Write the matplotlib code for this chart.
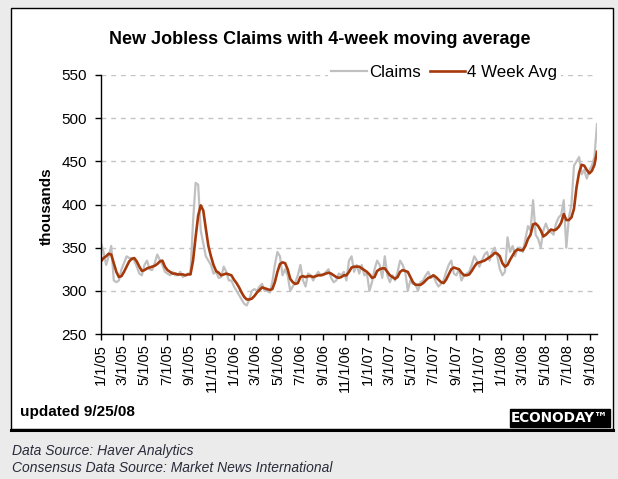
import numpy as np
import pandas as pd
import matplotlib
matplotlib.use("Agg")
import matplotlib.pyplot as plt
from matplotlib.patches import Rectangle
from matplotlib.lines import Line2D

plt.rcParams['font.family'] = ['Liberation Sans', 'DejaVu Sans']

# weekly initial claims (thousands), weeks ending Saturday from 1/1/05
claims_2005 = [355, 345, 330, 340, 352, 312, 310, 312, 325, 332,
               340, 338, 338, 335, 328, 320, 318, 330, 335, 325,
               324, 332, 342, 336, 330, 322, 320, 318, 322, 318,
               318, 322, 316, 318, 320, 320, 380, 425, 423, 370,
               355, 340, 335, 330, 320, 322, 315, 316, 328, 322,
               312, 312, 305]
claims_2006 = [300, 295, 290, 285, 283, 290, 300, 302, 300, 305,
               308, 300, 300, 298, 310, 330, 345, 340, 318, 325,
               318, 300, 305, 310, 318, 330, 312, 305, 320, 318,
               312, 318, 322, 318, 318, 322, 325, 315, 310, 312,
               320, 318, 322, 312, 335, 340, 322, 330, 320, 330,
               318, 320]
claims_2007 = [300, 310, 325, 335, 330, 315, 340, 318, 310, 318,
               312, 322, 335, 330, 322, 300, 312, 308, 308, 300,
               310, 312, 318, 322, 315, 318, 310, 305, 308, 312,
               322, 330, 335, 320, 318, 325, 312, 318, 320, 322,
               330, 340, 335, 328, 335, 342, 345, 335, 345, 350,
               340, 325]
claims_2008 = [318, 322, 362, 345, 352, 340, 350, 350, 345, 360,
               375, 370, 405, 365, 360, 350, 370, 378, 370, 368,
               365, 378, 385, 388, 405, 350, 385, 400, 445, 450,
               455, 435, 440, 430, 440, 445, 455, 493]

# 4-week moving average as drawn
avg_2005 = [334, 338, 340, 343, 342, 332, 322, 316, 317, 322,
            328, 334, 337, 338, 334, 328, 323, 324, 326, 327,
            328, 329, 331, 334, 335, 328, 324, 322, 320, 320,
            319, 319, 319, 318, 319, 319, 335, 362, 387, 399,
            393, 372, 352, 340, 330, 323, 321, 318, 319, 320,
            319, 318, 313]
avg_2006 = [309, 304, 298, 293, 290, 290, 291, 294, 298, 301,
            304, 303, 302, 301, 302, 310, 322, 331, 333, 332,
            325, 314, 310, 308, 309, 316, 317, 316, 317, 317,
            316, 317, 318, 318, 319, 320, 321, 320, 318, 316,
            315, 316, 318, 318, 322, 327, 328, 328, 328, 326,
            324, 322]
avg_2007 = [319, 315, 316, 323, 325, 326, 326, 322, 318, 316,
            314, 316, 322, 324, 323, 322, 316, 310, 307, 307,
            307, 309, 312, 315, 316, 318, 316, 313, 310, 309,
            313, 319, 325, 327, 326, 325, 321, 318, 318, 319,
            323, 328, 332, 333, 334, 335, 337, 339, 341, 344,
            343, 340]
avg_2008 = [332, 328, 330, 336, 341, 346, 348, 347, 347, 352,
            360, 365, 377, 378, 375, 370, 363, 365, 368, 371,
            370, 371, 374, 379, 389, 382, 382, 385, 395, 420,
            437, 446, 445, 440, 436, 439, 446, 461]

claims = claims_2005 + claims_2006 + claims_2007 + claims_2008
avg4 = avg_2005 + avg_2006 + avg_2007 + avg_2008
weeks = pd.date_range('2005-01-01', periods=len(claims), freq='7D')

tick_dates = pd.date_range('2005-01-01', '2008-09-01', freq='2MS')
tick_labels = [f"{d.month}/{d.day}/{d:%y}" for d in tick_dates]

W, H = 618, 479
fig = plt.figure(figsize=(W / 100, H / 100), dpi=100, facecolor='#ebebeb')

# white panel with black border
fig.patches.append(Rectangle((11 / W, 1 - 429 / H), (613 - 11) / W, (429 - 8) / H,
                             transform=fig.transFigure, facecolor='white',
                             edgecolor='black', lw=1, zorder=-5))
fig.add_artist(Line2D([11 / W, 613 / W], [1 - 429.5 / H] * 2, color='black', lw=2.2))

ax = fig.add_axes([101 / W, 1 - 334 / H, 496 / W, 259 / H])
ax.set_zorder(2)
ax.set_facecolor('none')

ax.plot(weeks, claims, color='#c0c0c0', lw=1.6, label='Claims')
ax.plot(weeks, avg4, color='#a5390b', lw=1.9, label='4 Week Avg')

ax.set_xlim(weeks[0], weeks[-1])
ax.set_ylim(250, 550)
ax.set_yticks(range(250, 551, 50))
ax.set_xticks(tick_dates)
ax.set_xticklabels(tick_labels, rotation=90, fontsize=10.5)
ax.tick_params(axis='x', direction='out', length=4, width=1, pad=3)
ax.tick_params(axis='y', direction='out', length=4, width=1, pad=6, labelsize=11)

ax.yaxis.grid(True, linestyle=(0, (3.5, 3.5)), color='#c4c4c4', lw=1)
ax.set_axisbelow(True)
for s in ['top', 'right']:
    ax.spines[s].set_visible(False)
for s in ['left', 'bottom']:
    ax.spines[s].set_color('black')
    ax.spines[s].set_linewidth(1)

leg = ax.legend(loc='center right', bbox_to_anchor=(0.927, 1.008), ncol=2,
                fontsize=12.2, frameon=True, fancybox=False, handlelength=2.1,
                handletextpad=0.12, columnspacing=0.55, borderpad=0.2,
                borderaxespad=0)
leg.get_frame().set_facecolor('white')
leg.get_frame().set_edgecolor('none')
leg.get_frame().set_alpha(1)

fig.text(320 / W, 1 - 39 / H, 'New Jobless Claims with 4-week moving average',
         ha='center', va='center', fontsize=13, fontweight='bold')
fig.text(47 / W, 1 - 206 / H, 'thousands', rotation=90, ha='center', va='center',
         fontsize=11, fontweight='bold')
fig.text(20 / W, 1 - 412 / H, 'updated 9/25/08', ha='left', va='center',
         fontsize=11, fontweight='bold')
fig.text(560 / W, 1 - 418 / H, 'ECONODAY\u2122', ha='center', va='center',
         fontsize=9.8, fontweight='bold', color='white', family='DejaVu Sans',
         bbox=dict(boxstyle='square,pad=0.12', facecolor='black', edgecolor='black'))

fig.text(12 / W, 1 - 451 / H, 'Data Source: Haver Analytics', ha='left', va='center',
         fontsize=10, style='italic', color='#2b2b3b')
fig.text(12 / W, 1 - 468 / H, 'Consensus Data Source: Market News International',
         ha='left', va='center', fontsize=10, style='italic', color='#2b2b3b')

fig.savefig('out.png', dpi=100, facecolor=fig.get_facecolor())
